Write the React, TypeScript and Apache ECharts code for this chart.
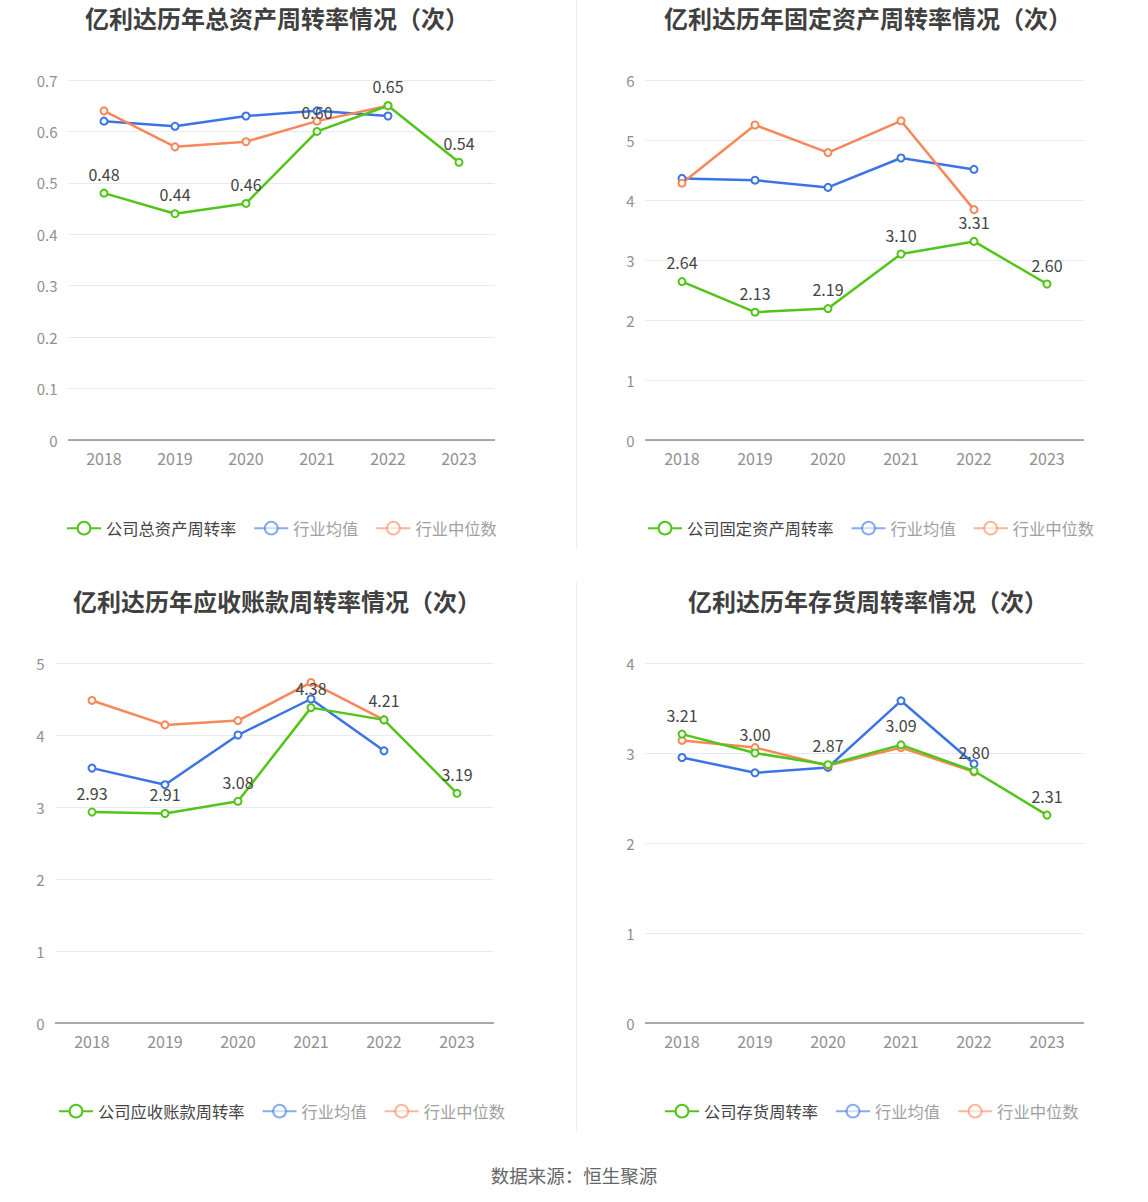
import React, { useEffect, useRef } from "react";
import * as echarts from "echarts";

const years = ["2018", "2019", "2020", "2021", "2022", "2023"];

const titles = [
  "亿利达历年总资产周转率情况（次）",
  "亿利达历年固定资产周转率情况（次）",
  "亿利达历年应收账款周转率情况（次）",
  "亿利达历年存货周转率情况（次）",
];
const companyNames = ["公司总资产周转率", "公司固定资产周转率", "公司应收账款周转率", "公司存货周转率"];
const avgName = "行业均值";
const medName = "行业中位数";

// total assets turnover
const companyTotal = [0.48, 0.44, 0.46, 0.6, 0.65, 0.54];
const avgTotal = [0.62, 0.61, 0.63, 0.64, 0.63, null];
const medTotal = [0.64, 0.57, 0.58, 0.62, 0.65, null];
// fixed assets turnover
const companyFixed = [2.64, 2.13, 2.19, 3.1, 3.31, 2.6];
const avgFixed = [4.36, 4.33, 4.21, 4.7, 4.51, null];
const medFixed = [4.28, 5.25, 4.79, 5.32, 3.84, null];
// receivables turnover
const companyRecv = [2.93, 2.91, 3.08, 4.38, 4.21, 3.19];
const avgRecv = [3.54, 3.31, 4.0, 4.5, 3.78, null];
const medRecv = [4.48, 4.14, 4.2, 4.73, 4.21, null];
// inventory turnover
const companyInv = [3.21, 3.0, 2.87, 3.09, 2.8, 2.31];
const avgInv = [2.95, 2.78, 2.84, 3.58, 2.88, null];
const medInv = [3.14, 3.06, 2.86, 3.06, 2.79, null];

const yMax = [0.7, 6, 5, 4];
const yInterval = [0.1, 1, 1, 1];

const companySeries = [companyTotal, companyFixed, companyRecv, companyInv];
const avgSeries = [avgTotal, avgFixed, avgRecv, avgInv];
const medSeries = [medTotal, medFixed, medRecv, medInv];

const GREEN = "#52c41a";
const BLUE = "#3b74e6";
const ORANGE = "#f8875a";
const FONT = "'Noto Sans CJK SC', 'Noto Sans', sans-serif";

const grids = [
  { left: 68.5, top: 80, width: 426, height: 360 },
  { left: 645.5, top: 80, width: 438, height: 360 },
  { left: 55.5, top: 663, width: 438, height: 360 },
  { left: 645.5, top: 663, width: 438, height: 360 },
];
const titlePos = [
  [277, 17],
  [868, 17],
  [277, 600],
  [868, 600],
];
const legendPos = [
  [61, 515],
  [642, 515],
  [53, 1098],
  [659, 1098],
];

export default function App() {
  const ref = useRef<HTMLDivElement>(null);
  useEffect(() => {
    if (!ref.current) return;
    const chart = echarts.init(ref.current, undefined, { renderer: "svg" });
    const series: any[] = [];
    const xAxis: any[] = [];
    const yAxis: any[] = [];
    const legend: any[] = [];
    const graphic: any[] = [];
    for (let i = 0; i < 4; i++) {
      xAxis.push({
        type: "category",
        gridIndex: i,
        data: years,
        boundaryGap: true,
        axisLine: { lineStyle: { color: "#8e8e9c", width: 1.5 } },
        axisTick: { alignWithLabel: true, length: 5, lineStyle: { color: "#8e8e9c" } },
        axisLabel: { color: "#909090", fontSize: 16, margin: 10, fontFamily: FONT },
      });
      yAxis.push({
        type: "value",
        gridIndex: i,
        min: 0,
        max: yMax[i],
        interval: yInterval[i],
        axisLine: { show: false },
        axisTick: { show: false },
        splitLine: { lineStyle: { color: "#e8eaf2", width: 1.2 } },
        axisLabel: { color: "#909090", fontSize: 15, margin: 11, fontFamily: FONT },
      });
      const common = {
        type: "line",
        xAxisIndex: i,
        yAxisIndex: i,
        symbol: "emptyCircle",
        symbolSize: 7,
      };
      series.push({
        ...common,
        name: companyNames[i],
        data: companySeries[i],
        itemStyle: { color: GREEN, borderWidth: 2 },
        lineStyle: { width: 2.5, color: GREEN },
        label: {
          show: true,
          position: "top",
          distance: 7,
          color: "#444",
          fontSize: 16,
          fontFamily: FONT,
          formatter: (p: any) => Number(p.value).toFixed(2),
        },
        z: 3,
      });
      series.push({
        ...common,
        name: avgName + "#" + i,
        data: avgSeries[i],
        itemStyle: { color: BLUE, borderWidth: 2 },
        lineStyle: { width: 2.5, color: BLUE },
        z: 2,
      });
      series.push({
        ...common,
        name: medName + "#" + i,
        data: medSeries[i],
        itemStyle: { color: ORANGE, borderWidth: 2 },
        lineStyle: { width: 2.5, color: ORANGE },
        z: 2,
      });
      legend.push({
        left: legendPos[i][0],
        top: legendPos[i][1],
        itemWidth: 34,
        itemHeight: 16,
        itemGap: 17,
        textStyle: { fontSize: 16.3, fontFamily: FONT, color: "#444" },
        formatter: (n: string) => n.split("#")[0],
        data: [
          { name: companyNames[i] },
          {
            name: avgName + "#" + i,
            textStyle: { color: "#a0a0a0" },
            itemStyle: { opacity: 0.6 },
            lineStyle: { opacity: 0.6 },
          },
          {
            name: medName + "#" + i,
            textStyle: { color: "#a0a0a0" },
            itemStyle: { opacity: 0.6 },
            lineStyle: { opacity: 0.6 },
          },
        ],
      });
      graphic.push({
        type: "text",
        x: titlePos[i][0],
        y: titlePos[i][1],
        style: {
          text: titles[i],
          fill: "#404040",
          font: `bold 24px ${FONT}`,
          textAlign: "center",
          textVerticalAlign: "middle",
        },
      });
    }
    graphic.push({
      type: "line",
      shape: { x1: 576.5, y1: 0, x2: 576.5, y2: 549 },
      style: { stroke: "#eeeeee", lineWidth: 1 },
    });
    graphic.push({
      type: "line",
      shape: { x1: 576.5, y1: 582, x2: 576.5, y2: 1131 },
      style: { stroke: "#eeeeee", lineWidth: 1 },
    });
    graphic.push({
      type: "text",
      x: 574,
      y: 1175,
      style: {
        text: "数据来源：恒生聚源",
        fill: "#666",
        font: `18.5px ${FONT}`,
        textAlign: "center",
        textVerticalAlign: "middle",
      },
    });
    chart.setOption({
      animation: false,
      backgroundColor: "#fff",
      textStyle: { fontFamily: FONT },
      grid: grids,
      xAxis,
      yAxis,
      series,
      legend,
      graphic,
    });
    return () => chart.dispose();
  }, []);
  return (
    <div
      ref={ref}
      style={{ position: "absolute", left: 0, top: 0, width: 1148, height: 1202 }}
    />
  );
}
